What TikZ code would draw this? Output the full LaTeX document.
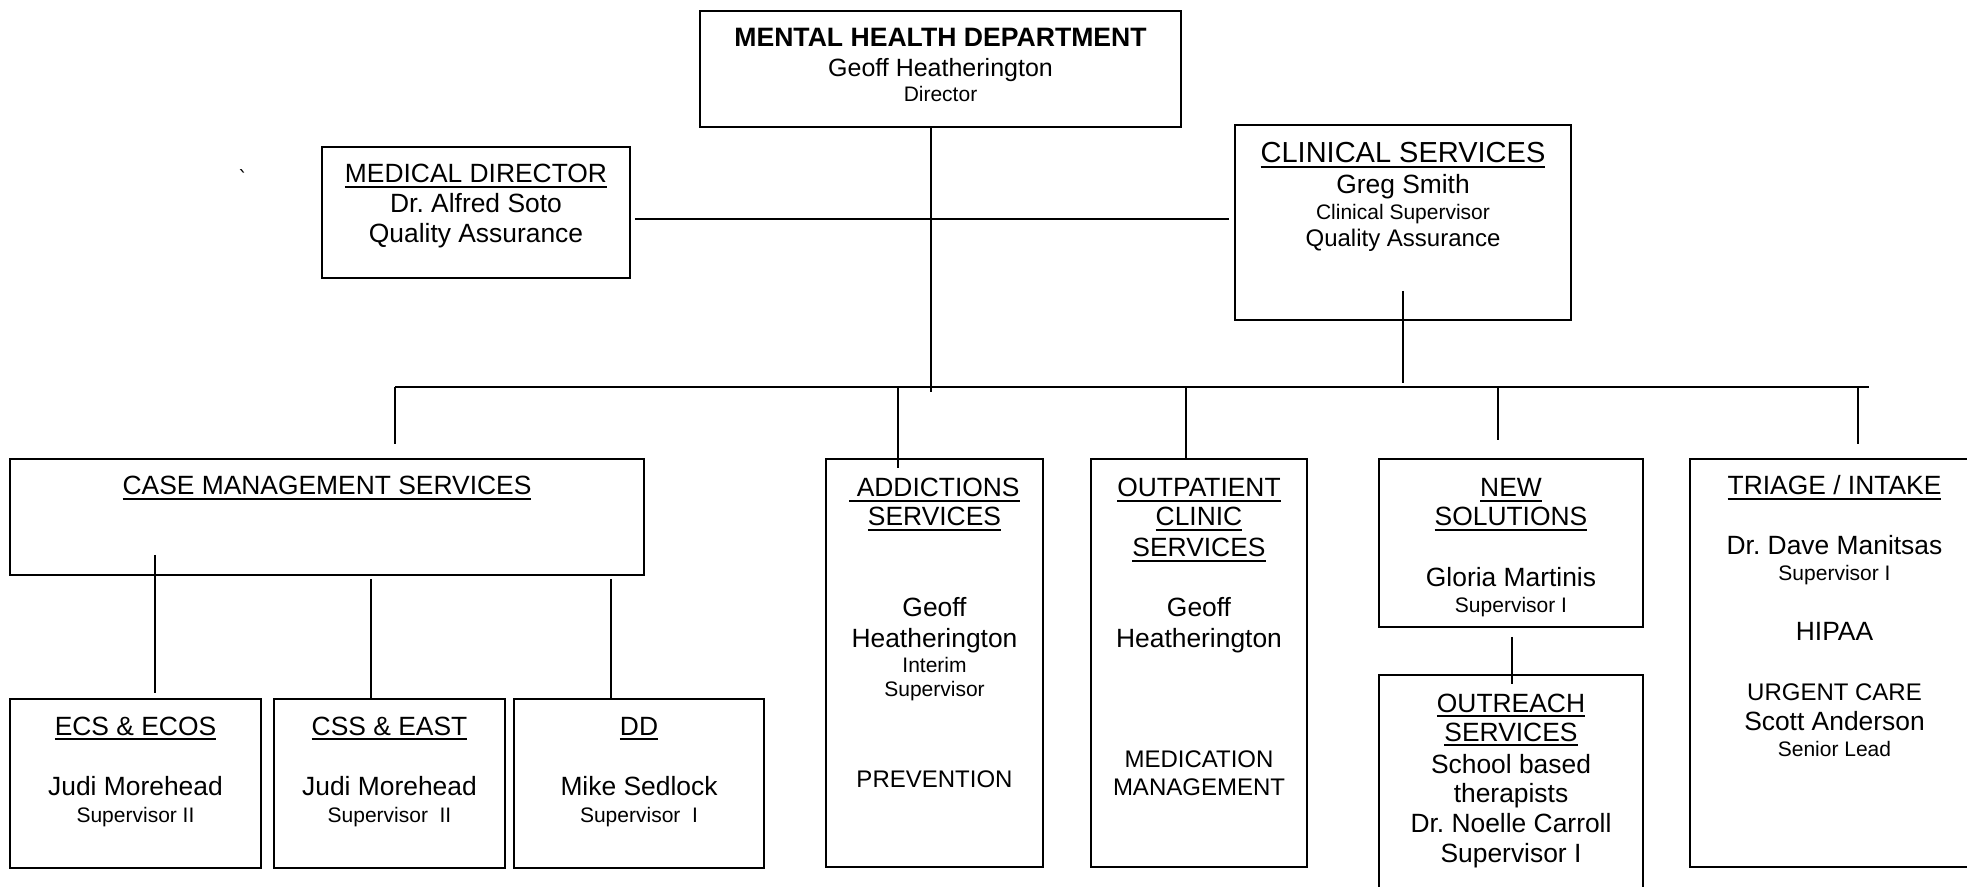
\documentclass[tikz,border=0pt]{standalone}
\usepackage{fontspec}
\setmainfont{Liberation Sans}
\newfontfamily\symfont{DejaVu Sans}
\usepackage{tikz}

\newsavebox{\headbox}
\newcommand{\ulhead}[1]{\sbox{\headbox}{#1}\rlap{\rule[-2.5pt]{\wd\headbox}{1pt}}\usebox{\headbox}}
\newcommand{\subsize}{\fontsize{10.5}{12}\selectfont}
\newcommand{\midsize}{\fontsize{12}{14}\selectfont}
\frenchspacing

\begin{document}
\begin{tikzpicture}[x=0.5pt, y=-0.5pt,
    box/.style 2 args={draw, line width=0.75pt, inner sep=0pt, minimum width=#1, minimum height=#2},
    link/.style={line width=0.55pt},
    txt/.style={anchor=base, inner sep=0pt, font=\fontsize{13.2}{15}\selectfont}]

    \useasboundingbox (0,0) rectangle (1967,887);
    \fill[white] (0,0) rectangle (1967,887);
    \clip (0,0) rectangle (1967,887);

    % Boxes
    \node[box={240.5pt}{58pt}] (mhd) at (940.5,69) {};
    \node[box={154pt}{65.5pt}] (med) at (476,212.5) {};
    \node[box={168pt}{97.5pt}] (clin) at (1403,222.5) {};
    \node[box={317pt}{58pt}] (cms) at (327,517) {};
    \node[box={125.5pt}{84.5pt}] (ecs) at (135.5,783.5) {};
    \node[box={115.5pt}{84.5pt}] (css) at (389.5,783.5) {};
    \node[box={125pt}{84.5pt}] (dd) at (639,783.5) {};
    \node[box={108.5pt}{204pt}] (add) at (934.5,663) {};
    \node[box={108pt}{204pt}] (opc) at (1199,663) {};
    \node[box={132pt}{84pt}] (nsol) at (1511,543) {};
    \node[box={132pt}{125pt}] (outr) at (1511,800) {};
    \node[box={144.5pt}{204pt}] (triage) at (1834.5,663) {};

    % Director line, staff line and bus
    \coordinate (mhd-end) at (931,392);
    \coordinate (qa) at (931,219);
    \coordinate (clin-top) at (1403,291);
    \coordinate (bus-l) at (395,387);
    \coordinate (bus-r) at (1869,387);
    \draw[link] (mhd.south -| mhd-end) -- (mhd-end);
    \draw[link, shorten <=2pt, shorten >=2.5pt] (med.east |- qa) -- (clin.west |- qa);
    \draw[link, shorten >=2pt] (clin-top) -- (clin-top |- bus-l);
    \draw[link] (bus-l) -- (bus-r);

    % Drops to the services
    \foreach \x/\b/\s in {395/cms/7pt, 898/add/-5pt, 1186/opc/0pt, 1498/nsol/9pt, 1858/triage/7pt} {
        \coordinate (drop-\b) at (\x,387);
        \draw[link, shorten >=\s] (drop-\b) -- (drop-\b |- \b.north);
    }

    % Case management programs
    \foreach \x/\b/\s/\e in {155/ecs/-10pt/2.5pt, 371/css/2pt/0pt, 611/dd/2pt/0pt} {
        \coordinate (cm-\b) at (\x,575);
        \draw[link, shorten <=\s, shorten >=\e] (cm-\b) -- (cm-\b |- \b.north);
    }
    \coordinate (ns-link) at (1512,627);
    \draw[link, shorten <=5pt, shorten >=-5pt] (ns-link) -- (ns-link |- outr.north);

    % Texts
    \node[txt, font=\bfseries\fontsize{13.3}{15}\selectfont] (mhd-1) at (mhd |- 0,47) {MENTAL HEALTH DEPARTMENT};
    \node[txt, font=\fontsize{12.5}{15}\selectfont] (mhd-2) at (mhd |- 0,77) {Geoff Heatherington};
    \node[txt, font=\subsize] (mhd-3) at (mhd |- 0,102) {Director};

    \node[inner sep=0pt, font=\symfont\fontsize{10}{12}\selectfont] (tick) at (243,177.5) {ˋ};

    \foreach \y/\t [count=\i] in {183/{\ulhead{MEDICAL DIRECTOR}}, 213/{Dr. Alfred Soto}, 243/{Quality Assurance}}
        \node[txt] (med-\i) at (med |- 0,\y) {\t};

    \node[txt, font=\fontsize{14.5}{17}\selectfont] (clin-1) at (clin |- 0,163) {\ulhead{CLINICAL SERVICES}};
    \foreach \y/\t [count=\i from 2] in {194/{Greg Smith}, 220/{\subsize Clinical Supervisor}, 247/{\midsize Quality Assurance}}
        \node[txt] (clin-\i) at (clin |- 0,\y) {\t};

    \node[txt] (cms-1) at (cms |- 0,495) {\ulhead{CASE MANAGEMENT SERVICES}};

    \foreach \y/\t [count=\i] in {735/{\ulhead{ECS \& ECOS}}, 795/{Judi Morehead}, 822/{\subsize Supervisor II}}
        \node[txt] (ecs-\i) at (ecs |- 0,\y) {\t};
    \foreach \y/\t [count=\i] in {735/{\ulhead{CSS \& EAST}}, 795/{Judi Morehead}, 822/{\subsize Supervisor\ \ II}}
        \node[txt] (css-\i) at (css |- 0,\y) {\t};
    \foreach \y/\t [count=\i] in {735/{\ulhead{DD}}, 795/{Mike Sedlock}, 822/{\subsize Supervisor\ \ I}}
        \node[txt] (dd-\i) at (dd |- 0,\y) {\t};

    \foreach \y/\t [count=\i] in {497/{\ulhead{\ ADDICTIONS}}, 526/{\ulhead{SERVICES}}, 617/{Geoff}, 647/{Heatherington},
            673/{\subsize Interim}, 697/{\subsize Supervisor}, 787/{\midsize PREVENTION}}
        \node[txt] (add-\i) at (add |- 0,\y) {\t};

    \foreach \y/\t [count=\i] in {497/{\ulhead{OUTPATIENT}}, 526/{\ulhead{CLINIC}}, 557/{\ulhead{SERVICES}}, 617/{Geoff},
            647/{Heatherington}, 768/{\midsize MEDICATION}, 795/{\midsize MANAGEMENT}}
        \node[txt] (opc-\i) at (opc |- 0,\y) {\t};

    \foreach \y/\t [count=\i] in {497/{\ulhead{NEW}}, 526/{\ulhead{SOLUTIONS}}, 587/{Gloria Martinis}, 613/{\subsize Supervisor I}}
        \node[txt] (nsol-\i) at (nsol |- 0,\y) {\t};

    \foreach \y/\t [count=\i] in {712/{\ulhead{OUTREACH}}, 741/{\ulhead{SERVICES}}, 773/{School based}, 802/{therapists},
            832/{Dr. Noelle Carroll}, 862/{Supervisor I}}
        \node[txt] (outr-\i) at (outr |- 0,\y) {\t};

    \foreach \y/\t [count=\i] in {495/{\ulhead{TRIAGE / INTAKE}}, 555/{Dr. Dave Manitsas}, 581/{\subsize Supervisor I}, 641/{HIPAA},
            700/{\midsize URGENT CARE}, 730/{Scott Anderson}, 756/{\subsize Senior Lead}}
        \node[txt] (triage-\i) at (triage |- 0,\y) {\t};
\end{tikzpicture}
\end{document}
